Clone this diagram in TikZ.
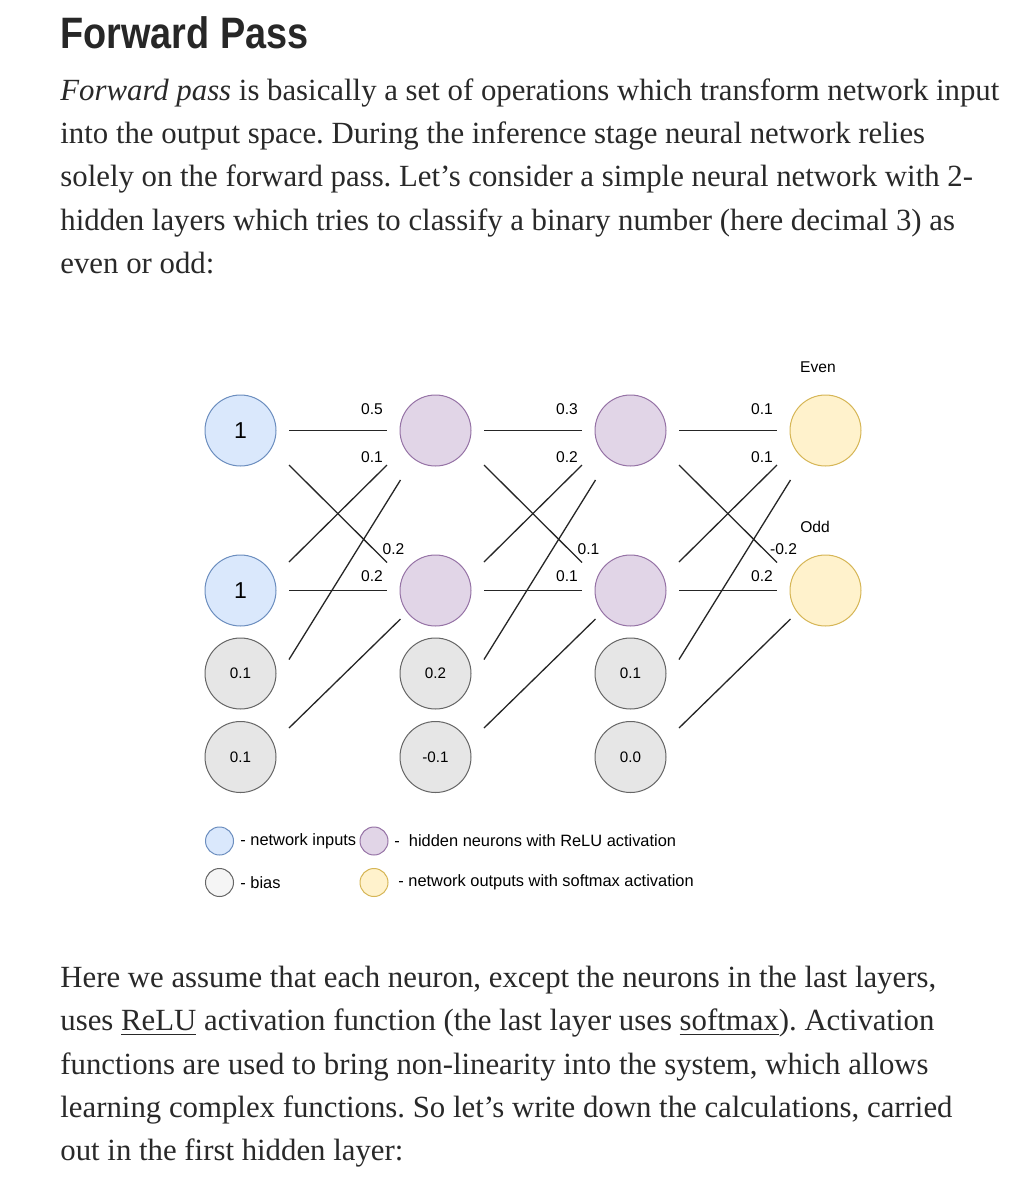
\documentclass[tikz,border=0pt]{standalone}
\usepackage{fontspec}
\setmainfont{Liberation Serif}
\setsansfont{Liberation Sans}
\newfontfamily\headfont[FakeStretch=0.86]{Liberation Sans}
\usetikzlibrary{positioning,calc}
\definecolor{inputfill}{HTML}{DAE8FC}
\definecolor{inputline}{HTML}{6C8EBF}
\definecolor{hiddenfill}{HTML}{E1D5E7}
\definecolor{hiddenline}{HTML}{9673A6}
\definecolor{biasfill}{HTML}{E6E6E6}
\definecolor{biaskey}{HTML}{F5F5F5}
\definecolor{biasline}{HTML}{666666}
\definecolor{outputfill}{HTML}{FFF2CC}
\definecolor{outputline}{HTML}{D6B656}
\definecolor{bodytext}{HTML}{292929}
\frenchspacing
\tikzset{
	neuron/.style={
		circle,
		draw,
		line width=0.5pt,
		minimum size=35.5pt,
		inner sep=0pt,
		font=\sffamily\fontsize{7.6}{9}\selectfont
	},
	innode/.style={neuron, draw=inputline, fill=inputfill, font=\sffamily\fontsize{11.5}{13}\selectfont},
	hidnode/.style={neuron, draw=hiddenline, fill=hiddenfill},
	biasnode/.style={neuron, draw=biasline, fill=biasfill},
	outnode/.style={neuron, draw=outputline, fill=outputfill},
	keynode/.style={
		circle,
		draw,
		line width=0.5pt,
		minimum size=14pt,
		inner sep=0pt
	},
	wlabel/.style={inner sep=0pt, font=\sffamily\fontsize{7.8}{9}\selectfont},
	keytext/.style={anchor=west, inner sep=0pt, font=\sffamily\fontsize{8.2}{10}\selectfont},
	conn/.style={line width=0.65pt, draw=black!85},
	bodyline/.style={anchor=base west, inner sep=0pt, text=bodytext, font=\fontsize{15.4}{18}\selectfont}
}

\begin{document}
\begin{tikzpicture}[x=0.5pt,y=-0.5pt]
	
	\useasboundingbox[fill=white] (0,0) rectangle (1033,1200);
	
	% --- HEADING AND FIRST PARAGRAPH ---
	\node[anchor=base west, inner sep=0pt, text=bodytext!95!black, font=\headfont\bfseries\fontsize{22}{26}\selectfont]
	(title) at (60,48.3) {Forward Pass};
	
	\node[bodyline] (pa1) at (60,100)   {\textit{Forward pass} is basically a set of operations which transform network input};
	\node[bodyline] (pa2) at (60,143.4) {into the output space. During the inference stage neural network relies};
	\node[bodyline] (pa3) at (60,186.7) {solely on the forward pass. Let’s consider a simple neural network with 2-};
	\node[bodyline] (pa4) at (60,230)   {hidden layers which tries to classify a binary number (here decimal 3) as};
	\node[bodyline] (pa5) at (60,273.4) {even or odd:};
	
	% --- INPUT LAYER ---
	\node[innode] (x1) at (240.5,430.5) {1};
	\node[innode] (x2) at (240.5,590.5) {1};
	\node[biasnode] (b1) at (240.5,673.5) {0.1};
	\node[biasnode] (b2) at (240.5,757) {0.1};
	
	% --- FIRST HIDDEN LAYER ---
	\node[hidnode] (h1a) at (435.5,430.5) {};
	\node[hidnode] (h1b) at (435.5,590.5) {};
	\node[biasnode] (c1) at (435.5,673.5) {0.2};
	\node[biasnode] (c2) at (435.5,757) {-0.1};
	
	% --- SECOND HIDDEN LAYER ---
	\node[hidnode] (h2a) at (630.5,430.5) {};
	\node[hidnode] (h2b) at (630.5,590.5) {};
	\node[biasnode] (d1) at (630.5,673.5) {0.1};
	\node[biasnode] (d2) at (630.5,757) {0.0};
	
	% --- OUTPUT LAYER ---
	\node[outnode] (yeven) at (825.5,430.5) {};
	\node[outnode] (yodd) at (825.5,590.5) {};
	\node[wlabel] (leven) at (818,367) {Even};
	\node[wlabel] (lodd) at (815,527) {Odd};
	
	% --- CONNECTIONS (gap on both ends) ---
	\foreach \srcA/\srcB/\biasA/\biasB/\tgtA/\tgtB in {x1/x2/b1/b2/h1a/h1b, h1a/h1b/c1/c2/h2a/h2b, h2a/h2b/d1/d2/yeven/yodd} {
		\draw[conn] ($(\srcA)+(48.5,0)$) -- ($(\tgtA)+(-48.5,0)$);
		\draw[conn] ($(\srcA)+(48.5,34.5)$) -- ($(\tgtB)+(-48.5,-28)$);
		\draw[conn] ($(\srcB)+(48.5,-28.5)$) -- ($(\tgtA)+(-48.5,34.5)$);
		\draw[conn] ($(\srcB)+(48.5,0)$) -- ($(\tgtB)+(-48.5,0)$);
		\draw[conn] ($(\biasA)+(48.5,-14)$) -- ($(\tgtA)+(-35,49.5)$);
		\draw[conn] ($(\biasB)+(48.5,-29)$) -- ($(\tgtB)+(-35,28.5)$);
	}
	
	% --- WEIGHTS ---
	\foreach \tgtA/\tgtB/\wA/\wB/\wC/\wD in {h1a/h1b/0.5/0.1/0.2/0.2, h2a/h2b/0.3/0.2/0.1/0.1, yeven/yodd/0.1/0.1/-0.2/0.2} {
		\node[wlabel] (\tgtA-w1) at ($(\tgtA)+(-63.5,-21.5)$) {\wA};
		\node[wlabel] (\tgtA-w2) at ($(\tgtA)+(-63.5,26.5)$) {\wB};
		\node[wlabel] (\tgtB-w1) at ($(\tgtB)+(-42,-41.5)$) {\wC};
		\node[wlabel] (\tgtB-w2) at ($(\tgtB)+(-63.5,-14)$) {\wD};
	}
	
	% --- LEGEND ---
	\node[keynode, draw=inputline, fill=inputfill] (kin) at (219.5,841) {};
	\node[keytext] (tin) at (240,841) {- network inputs};
	\node[keynode, draw=hiddenline, fill=hiddenfill] (khid) at (374,841) {};
	\node[keytext] (thid) at (394,841) {-\ \ hidden neurons with ReLU activation};
	\node[keynode, draw=biasline, fill=biaskey] (kbias) at (219.5,882.5) {};
	\node[keytext] (tbias) at (240,882.5) {- bias};
	\node[keynode, draw=outputline, fill=outputfill] (kout) at (374,882.5) {};
	\node[keytext] (tout) at (398,882.5) {- network outputs with softmax activation};
	
	% --- SECOND PARAGRAPH ---
	\node[bodyline] (pb1) at (60,987.5)  {Here we assume that each neuron, except the neurons in the last layers,};
	\node[bodyline] (pb2) at (60,1030.9) {uses \underline{ReLU} activation function (the last layer uses \underline{softmax}). Activation};
	\node[bodyline] (pb3) at (60,1074.2) {functions are used to bring non-linearity into the system, which allows};
	\node[bodyline] (pb4) at (60,1117.5) {learning complex functions. So let’s write down the calculations, carried};
	\node[bodyline] (pb5) at (60,1160.9) {out in the first hidden layer:};
	
\end{tikzpicture}
\end{document}
